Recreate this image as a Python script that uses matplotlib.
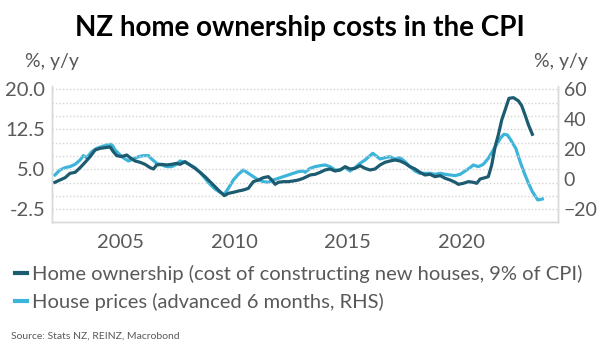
import matplotlib
matplotlib.use("Agg")
import matplotlib.pyplot as plt
from matplotlib.lines import Line2D

plt.rcParams['font.family'] = ['Lato', 'DejaVu Sans']

# Home ownership (cost of constructing new houses), % y/y, left axis
home_years = [2002.11, 2002.33, 2002.56, 2002.77, 2003.00, 2003.22, 2003.44, 2003.66,
              2003.88, 2004.10, 2004.32, 2004.54, 2004.68, 2004.83, 2005.05, 2005.27,
              2005.42, 2005.64, 2005.86, 2006.08, 2006.30, 2006.45, 2006.59, 2006.81,
              2007.03, 2007.25, 2007.47, 2007.62, 2007.84, 2008.06, 2008.28, 2008.50,
              2008.72, 2008.94, 2009.16, 2009.38, 2009.57, 2009.75, 2009.97, 2010.19,
              2010.41, 2010.63, 2010.85, 2011.07, 2011.29, 2011.51, 2011.66, 2011.81,
              2011.95, 2012.17, 2012.39, 2012.61, 2012.83, 2013.05, 2013.35, 2013.57,
              2013.79, 2014.01, 2014.23, 2014.45, 2014.67, 2014.89, 2015.11, 2015.33,
              2015.55, 2015.77, 2015.99, 2016.21, 2016.43, 2016.65, 2016.87, 2017.09,
              2017.31, 2017.53, 2017.75, 2017.97, 2018.19, 2018.41, 2018.63, 2018.85,
              2019.08, 2019.30, 2019.52, 2019.74, 2019.88, 2020.10, 2020.32, 2020.54,
              2020.69, 2020.84, 2021.06, 2021.20, 2021.35, 2021.50, 2021.64, 2021.79,
              2021.94, 2022.11, 2022.31, 2022.53, 2022.67, 2022.82, 2022.97, 2023.14]
home_vals = [2.56, 2.99, 3.43, 4.24, 4.43, 5.31, 6.31, 7.37,
             8.62, 8.93, 9.06, 9.18, 8.31, 7.56, 7.37, 7.68,
             7.18, 6.56, 6.31, 5.93, 5.31, 5.06, 5.81, 5.93,
             5.81, 5.93, 6.12, 5.93, 6.43, 5.81, 5.18, 4.43,
             3.62, 2.68, 1.74, 0.81, 0.06, 0.49, 0.68, 0.93,
             1.12, 1.43, 2.68, 2.99, 3.43, 3.62, 2.99, 2.18,
             2.56, 2.68, 2.68, 2.81, 2.99, 3.31, 3.93, 4.06,
             4.43, 4.87, 5.06, 4.68, 4.87, 5.49, 5.06, 5.18,
             5.68, 5.18, 4.87, 5.06, 5.81, 6.31, 6.56, 6.74,
             6.56, 6.12, 5.49, 5.06, 4.43, 3.93, 4.06, 3.62,
             3.81, 3.31, 2.99, 2.56, 2.18, 2.37, 2.68, 2.56,
             2.37, 3.18, 3.43, 3.62, 5.81, 9.24, 11.43, 14.24,
             16.12, 18.31, 18.43, 17.81, 16.93, 15.18, 13.31, 11.56]

# House prices (advanced 6 months), % y/y, right axis
price_years = [2002.11, 2002.33, 2002.56, 2002.77, 2003.00, 2003.22, 2003.36, 2003.51,
               2003.73, 2003.95, 2004.17, 2004.39, 2004.61, 2004.76, 2004.98, 2005.20,
               2005.35, 2005.57, 2005.79, 2006.01, 2006.23, 2006.37, 2006.59, 2006.81,
               2007.03, 2007.25, 2007.47, 2007.62, 2007.84, 2008.06, 2008.28, 2008.50,
               2008.72, 2008.94, 2009.16, 2009.38, 2009.57, 2009.75, 2009.97, 2010.19,
               2010.41, 2010.63, 2010.85, 2011.07, 2011.29, 2011.51, 2011.73, 2011.95,
               2012.17, 2012.39, 2012.61, 2012.83, 2013.05, 2013.13, 2013.35, 2013.57,
               2013.79, 2014.01, 2014.23, 2014.45, 2014.67, 2014.89, 2015.11, 2015.33,
               2015.55, 2015.77, 2015.99, 2016.11, 2016.21, 2016.43, 2016.65, 2016.87,
               2017.09, 2017.31, 2017.53, 2017.75, 2017.97, 2018.19, 2018.41, 2018.63,
               2018.85, 2019.08, 2019.30, 2019.52, 2019.74, 2019.96, 2020.18, 2020.40,
               2020.54, 2020.76, 2020.98, 2021.20, 2021.42, 2021.60, 2021.75, 2021.89,
               2022.04, 2022.19, 2022.41, 2022.60, 2022.79, 2022.97, 2023.14, 2023.38,
               2023.58]
price_vals = [2.87, 6.20, 7.76, 8.42, 9.98, 12.87, 15.76, 14.42,
              18.42, 20.65, 21.76, 22.87, 23.31, 19.53, 16.20, 13.53,
              12.20, 13.53, 15.09, 15.76, 15.76, 13.53, 10.65, 9.53,
              8.42, 8.42, 9.98, 12.20, 11.31, 9.53, 7.76, 4.65,
              0.65, -3.35, -6.46, -8.68, -10.00, -6.00, -0.46, 3.31,
              6.20, 3.98, 1.76, -0.46, -1.57, -2.02, -0.46, 0.65,
              1.76, 2.87, 3.98, 5.09, 5.53, 4.65, 7.31, 8.42,
              9.09, 9.53, 8.42, 6.20, 6.20, 7.76, 5.53, 7.76,
              10.65, 12.87, 15.76, 17.31, 16.20, 13.53, 14.42, 15.09,
              13.53, 14.42, 11.76, 8.42, 5.53, 3.98, 3.98, 3.98,
              3.31, 3.98, 3.31, 2.87, 2.42, 3.31, 5.53, 7.76,
              9.53, 8.42, 9.98, 13.98, 19.53, 23.98, 27.76, 29.98,
              29.54, 26.20, 20.65, 11.76, 3.98, -2.68, -8.24, -13.80,
              -13.13]

left_ticks = [20.0, 12.5, 5.0, -2.5]
right_ticks = [60, 40, 20, 0, -20]
grid_levels = [-2.5, 0, 2.5, 5, 7.5, 10, 12.5, 15, 17.5, 20]
year_ticks = [2005, 2010, 2015, 2020]

dark = '#1c5b70'
light = '#3db5da'
grey = '#595959'

fig = plt.figure(figsize=(6.0, 3.53), dpi=100)
ax = fig.add_axes([52 / 600, 0.372, 506 / 600, 0.3844])
ax2 = ax.twinx()

for g in grid_levels:
    ax.axhline(g, color='#d4d4d4', lw=1.0, ls=(0, (1, 1.5)), zorder=0)

ax2.plot(price_years, price_vals, color=light, lw=2.3, zorder=2)
ax.plot(home_years, home_vals, color=dark, lw=2.3, zorder=3)
ax.set_zorder(ax2.get_zorder() + 1)
ax.patch.set_visible(False)

ax.set_xlim(2001.98, 2024.27)
ax.set_ylim(-4.825, 20.62)
ax2.set_ylim(-28.27, 62.2)

ax.set_yticks(left_ticks)
ax.set_yticklabels([f'{t:.1f}' for t in left_ticks])
ax2.set_yticks(right_ticks)
ax.set_xticks(year_ticks)

for a in (ax, ax2):
    a.tick_params(length=0, labelsize=14.5, labelcolor=grey, pad=5)
    a.spines['top'].set_visible(False)
    for s in ('left', 'right', 'bottom'):
        a.spines[s].set_color('#d9d9d9')
        a.spines[s].set_linewidth(1.0)
ax2.tick_params(labelsize=14, pad=4)
ax.tick_params(axis='x', pad=9)

fig.text(0.5, 0.92, 'NZ home ownership costs in the CPI', ha='center', va='center',
         fontsize=20, fontweight='bold', color='black')
fig.text(25 / 600, 1 - 62 / 353, '%, y/y', ha='left', va='center', fontsize=14, color=grey)
fig.text(588 / 600, 1 - 62 / 353, '%, y/y', ha='right', va='center', fontsize=14, color=grey)

handles = [Line2D([], [], color=dark, lw=3), Line2D([], [], color=light, lw=3)]
labels = ['Home ownership (cost of constructing new houses, 9% of CPI)',
          'House prices (advanced 6 months, RHS)']
fig.legend(handles, labels, loc='upper left', bbox_to_anchor=(15 / 600, 1 - 265 / 353),
           frameon=False, fontsize=14.5, labelcolor=grey, handlelength=0.6,
           handletextpad=0.25, labelspacing=0.5, borderaxespad=0, borderpad=0)

fig.text(11 / 600, 1 - 336 / 353, 'Source: Stats NZ, REINZ, Macrobond', ha='left', va='center',
         fontsize=7.5, color=grey)

fig.savefig('out.png', dpi=100, facecolor='white')
